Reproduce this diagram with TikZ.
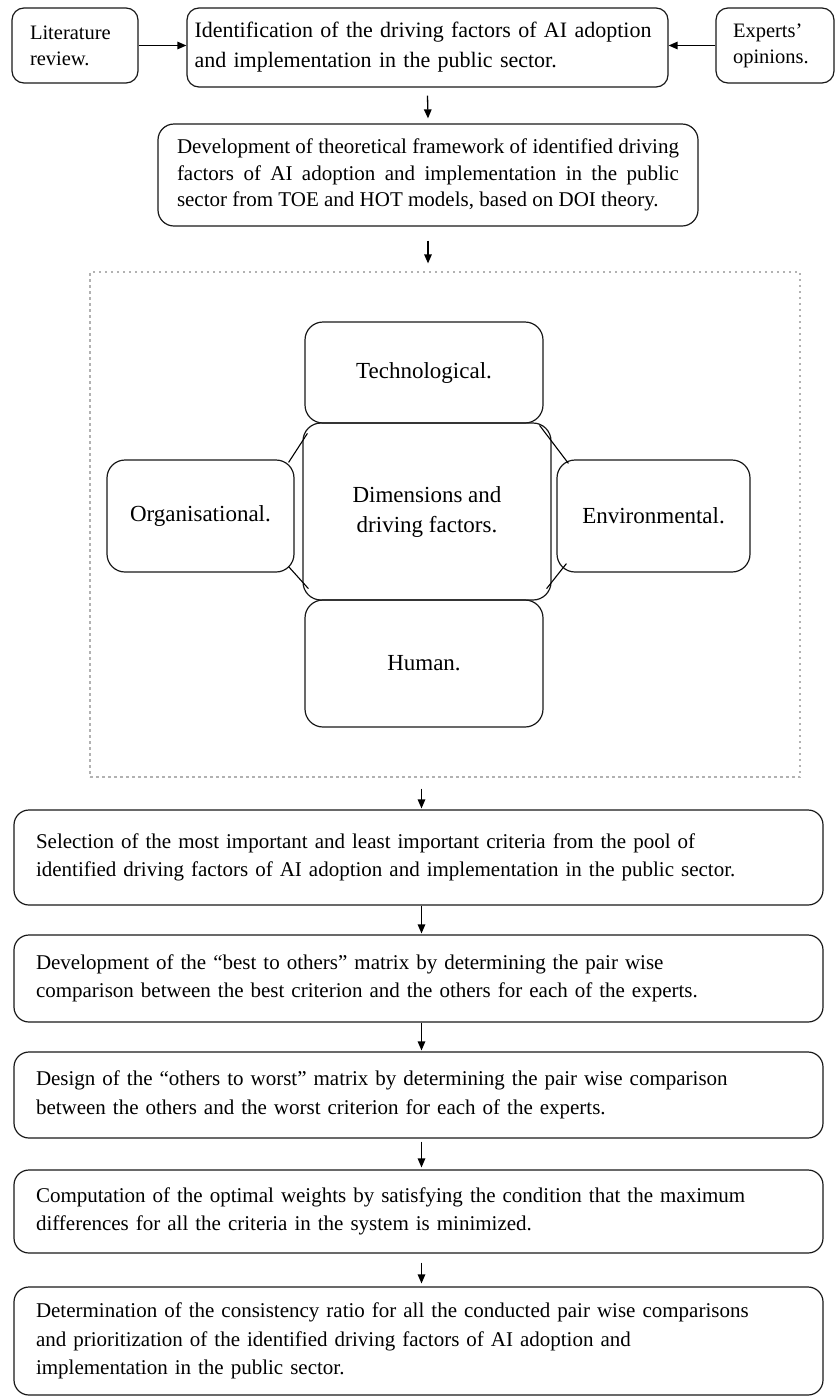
\documentclass[tikz,border=0pt]{standalone}
\usepackage{fontspec}
\setmainfont{Liberation Serif}
\usetikzlibrary{arrows.meta,calc}
\begin{document}
\begin{tikzpicture}[x=1pt,y=-1pt,
  box/.style={draw=black!90,line width=1.2pt,rounded corners=12pt,inner sep=0pt},
  side/.style={box,font=\fontsize{20.5}{26}\selectfont,align=left},
  top/.style={box,font=\fontsize{22}{30}\selectfont,align=left},
  fw/.style={box,rounded corners=16pt,font=\fontsize{21}{26.5}\selectfont,align=justify},
  dim/.style={box,rounded corners=18pt,font=\fontsize{23}{30}\selectfont,align=center},
  low/.style={box,rounded corners=15pt,font=\fontsize{21}{28.5}\selectfont,align=left,
    minimum width=809pt,text width=765pt},
  arr/.style={line width=1.3pt,-{Triangle[length=9pt,width=7.5pt]}},
  conn/.style={line width=1.1pt}]
\useasboundingbox (0,0) rectangle (835,1398);
% top row
\node[side,minimum width=126pt,minimum height=75pt,text width=90pt] (lit) at (75,45.5)
  {Literature\\review.};
\node[top,minimum width=481pt,minimum height=79pt,text width=466pt] (main) at (427.5,47.5)
  {Identification of the driving factors of AI adoption\\and implementation in the public sector.};
\node[side,minimum width=118pt,minimum height=75pt,text width=84pt] (exp) at (775,45.5)
  {Experts'\\opinions.};
\draw[arr] (lit.east) -- (lit.east -| main.west);
\draw[arr] (exp.west) -- (exp.west -| main.east);
% framework box
\node[fw,minimum width=540pt,minimum height=102pt,text width=502pt] (fwk) at (428,175)
  {Development of theoretical framework of identified driving\linebreak
   factors of AI adoption and implementation in the public\linebreak
   sector from TOE and HOT models, based on DOI theory.};
\draw[arr] ($(main.south)+(0,8)$) -- ($(fwk.north)+(0,-5)$);
% dotted frame
\node[draw=black!30,line width=1.2pt,dash pattern=on 2.5pt off 3.5pt,minimum width=710pt,minimum height=505pt,inner sep=0pt] (frame) at (445,524.5) {};
\draw[arr] ($(fwk.south)+(0,14)$) -- ($(fwk.south |- frame.north)+(0,-8)$);
% dimensions
\node[dim,minimum width=238pt,minimum height=101pt] (tech) at (424,372.5) {Technological.};
\node[dim,minimum width=248pt,minimum height=177pt] (cent) at (427,511.5) {Dimensions and\\driving factors.};
\node[dim,minimum width=187pt,minimum height=112pt] (org) at (200.5,516) {Organisational.};
\node[dim,minimum width=193pt,minimum height=112pt] (env) at (653.5,516) {Environmental.};
\node[dim,minimum width=238pt,minimum height=127pt] (hum) at (424,663.5) {Human.};
\draw[conn] ($(org.north east)+(-6,3)$) -- ($(cent.north west)+(5,11)$);
\draw[conn] ($(org.south east)+(-6,-6)$) -- ($(cent.south west)+(6,-12)$);
\draw[conn] ($(cent.north east)+(-12,3)$) -- ($(env.north west)+(12,4)$);
\draw[conn] ($(cent.south east)+(-5,-12)$) -- ($(env.south west)+(10,-9)$);
% lower steps
\node[low,minimum height=95pt] (sel) at (418.5,857.5)
  {Selection of the most important and least important criteria from the pool of\\identified driving factors of AI adoption and implementation in the public sector.};
\node[low,minimum height=87pt] (bo) at (418.5,978.5)
  {Development of the “best to others” matrix by determining the pair wise\\comparison between the best criterion and the others for each of the experts.};
\node[low,minimum height=86pt] (ow) at (418.5,1095)
  {Design of the “others to worst” matrix by determining the pair wise comparison\\between the others and the worst criterion for each of the experts.};
\node[low,minimum height=83pt] (comp) at (418.5,1211.5)
  {Computation of the optimal weights by satisfying the condition that the maximum\\differences for all the criteria in the system is minimized.};
\node[low,minimum height=108pt] (det) at (418.5,1341)
  {Determination of the consistency ratio for all the conducted pair wise comparisons\\and prioritization of the identified driving factors of AI adoption and\\implementation in the public sector.};
\draw[arr] ($(frame.south -| sel.north)+(3,11)$) -- ($(sel.north)+(3,-1)$);
\draw[arr] ($(sel.south)+(3,0)$) -- ($(bo.north)+(3,-1)$);
\draw[arr] ($(bo.south)+(3,0)$) -- ($(ow.north)+(3,-1)$);
\draw[arr] ($(ow.south)+(3,3)$) -- ($(comp.north)+(3,-2)$);
\draw[arr] ($(comp.south)+(3,9)$) -- ($(det.north)+(3,-3)$);
\end{tikzpicture}
\end{document}
